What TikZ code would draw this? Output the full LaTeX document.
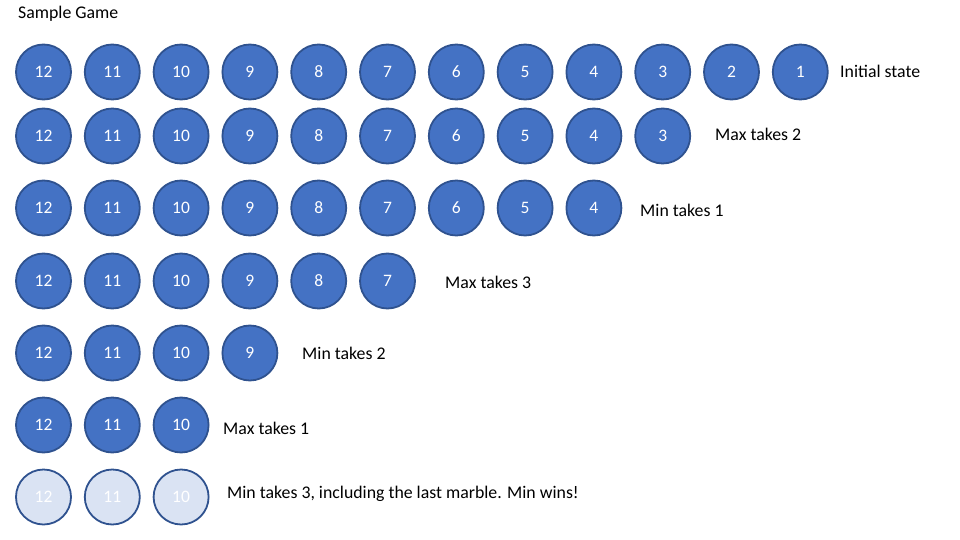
\documentclass[tikz,border=0pt]{standalone}
\usepackage{fontspec}
\setmainfont{Carlito}
\definecolor{marble}{HTML}{4472C4}
\definecolor{marbleedge}{HTML}{2F528F}
\definecolor{gone}{HTML}{DAE3F3}
\begin{document}
\begin{tikzpicture}[x=1pt,y=-1pt,
  marblebox/.style={circle,draw=marbleedge,line width=1.8pt,fill=marble,minimum size=55pt,inner sep=0pt,text=white,font=\fontsize{17.5}{20}\selectfont},
  gonebox/.style={marblebox,fill=gone},
  label/.style={anchor=west,inner sep=0pt,font=\fontsize{17.8}{21}\selectfont,text=black}]
\useasboundingbox (0,0) rectangle (960,540);
\node[label] (title) at (18,14) {Sample Game};
% rows: row index / y / lowest number
\foreach \r/\yy/\low in {1/72/1,2/136/3,3/208/4,4/281/7,5/353/9,6/425/10}{
  \foreach \n in {12,...,\low}{
    \node[marblebox] (m\r-\n) at ({43.5+68.8*(12-\n)},\yy) {\n};
  }
}
\foreach \n in {12,11,10}{
  \node[gonebox] (m7-\n) at ({43.5+68.8*(12-\n)},497) {\n};
}
\node[label] (l1) at (840,71) {Initial state};
\node[label] (l2) at (715,134) {Max takes 2};
\node[label] (l3) at (640,210) {Min takes 1};
\node[label] (l4) at (445,282) {Max takes 3};
\node[label] (l5) at (302,353) {Min takes 2};
\node[label] (l6) at (223,428) {Max takes 1};
\node[label] (l7) at (227,494) {Min takes 3, including the last marble. Min wins!};
\end{tikzpicture}
\end{document}
